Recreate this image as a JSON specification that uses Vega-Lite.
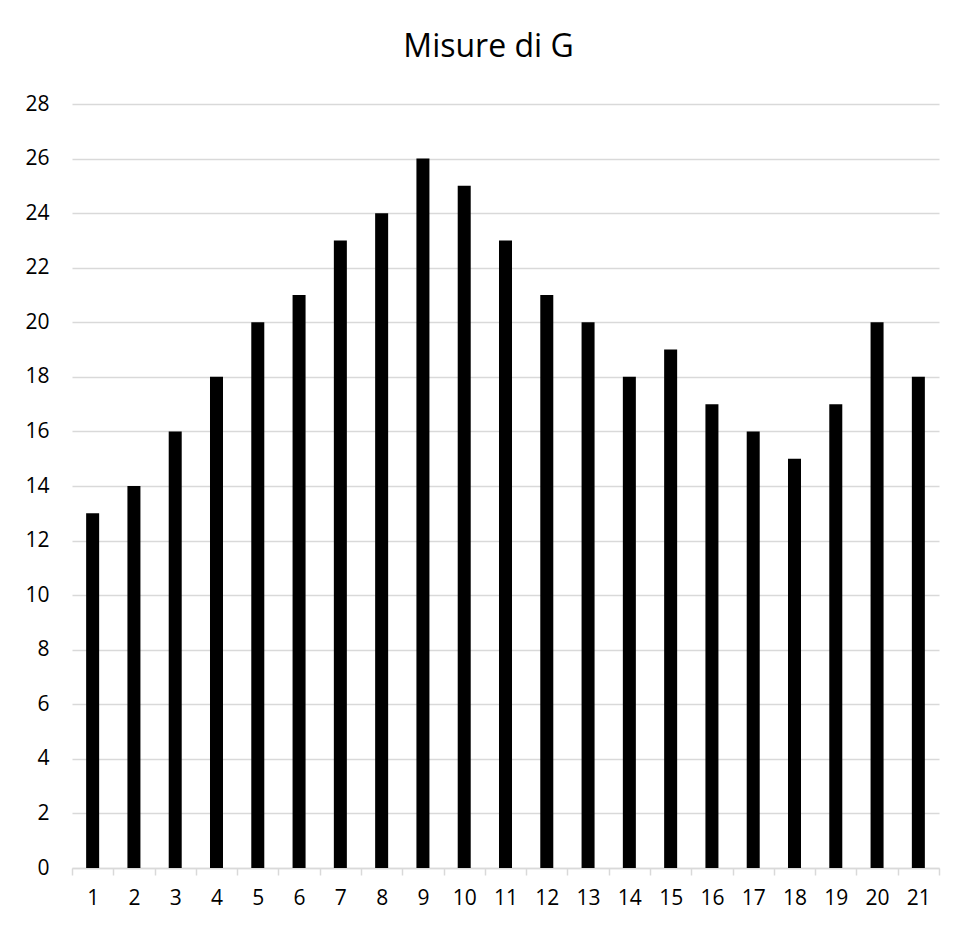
{
  "$schema": "https://vega.github.io/schema/vega-lite/v6.json",
  "width": 867,
  "height": 764,
  "autosize": {"type": "none"},
  "padding": {"left": 72, "top": 104, "right": 18, "bottom": 58},
  "background": "white",
  "title": {
    "text": "Misure di G",
    "font": "Open Sans",
    "fontSize": 32,
    "fontWeight": "normal",
    "color": "#000000",
    "baseline": "alphabetic",
    "anchor": "middle",
    "dx": -17,
    "offset": 4
  },
  "data": {
    "values": [
      {"n": "1", "g": 13}, {"n": "2", "g": 14}, {"n": "3", "g": 16}, {"n": "4", "g": 18},
      {"n": "5", "g": 20}, {"n": "6", "g": 21}, {"n": "7", "g": 23}, {"n": "8", "g": 24},
      {"n": "9", "g": 26}, {"n": "10", "g": 25}, {"n": "11", "g": 23}, {"n": "12", "g": 21},
      {"n": "13", "g": 20}, {"n": "14", "g": 18}, {"n": "15", "g": 19}, {"n": "16", "g": 17},
      {"n": "17", "g": 16}, {"n": "18", "g": 15}, {"n": "19", "g": 17}, {"n": "20", "g": 20},
      {"n": "21", "g": 18}
    ]
  },
  "mark": {"type": "bar", "color": "#000000", "width": {"band": 0.315}},
  "encoding": {
    "x": {
      "field": "n",
      "type": "ordinal",
      "sort": null,
      "title": null,
      "scale": {"paddingInner": 0, "paddingOuter": 0},
      "axis": {
        "labelAngle": 0,
        "labelFont": "Open Sans",
        "labelFontSize": 21,
        "labelColor": "#000000",
        "labelPadding": 12,
        "domainColor": "#d9d9d9",
        "domainWidth": 1.5,
        "tickColor": "#d9d9d9",
        "tickWidth": 1.5,
        "tickSize": 7,
        "tickBand": "extent",
        "grid": false
      }
    },
    "y": {
      "field": "g",
      "type": "quantitative",
      "title": null,
      "scale": {"domain": [0, 28], "nice": false},
      "axis": {
        "values": [0, 2, 4, 6, 8, 10, 12, 14, 16, 18, 20, 22, 24, 26, 28],
        "labelFont": "Open Sans",
        "labelFontSize": 21,
        "labelColor": "#000000",
        "labelPadding": 23,
        "tickSize": 0,
        "domain": false,
        "ticks": false,
        "grid": true,
        "gridColor": "#d9d9d9",
        "gridWidth": 1.5
      }
    }
  },
  "config": {"view": {"stroke": null}}
}
